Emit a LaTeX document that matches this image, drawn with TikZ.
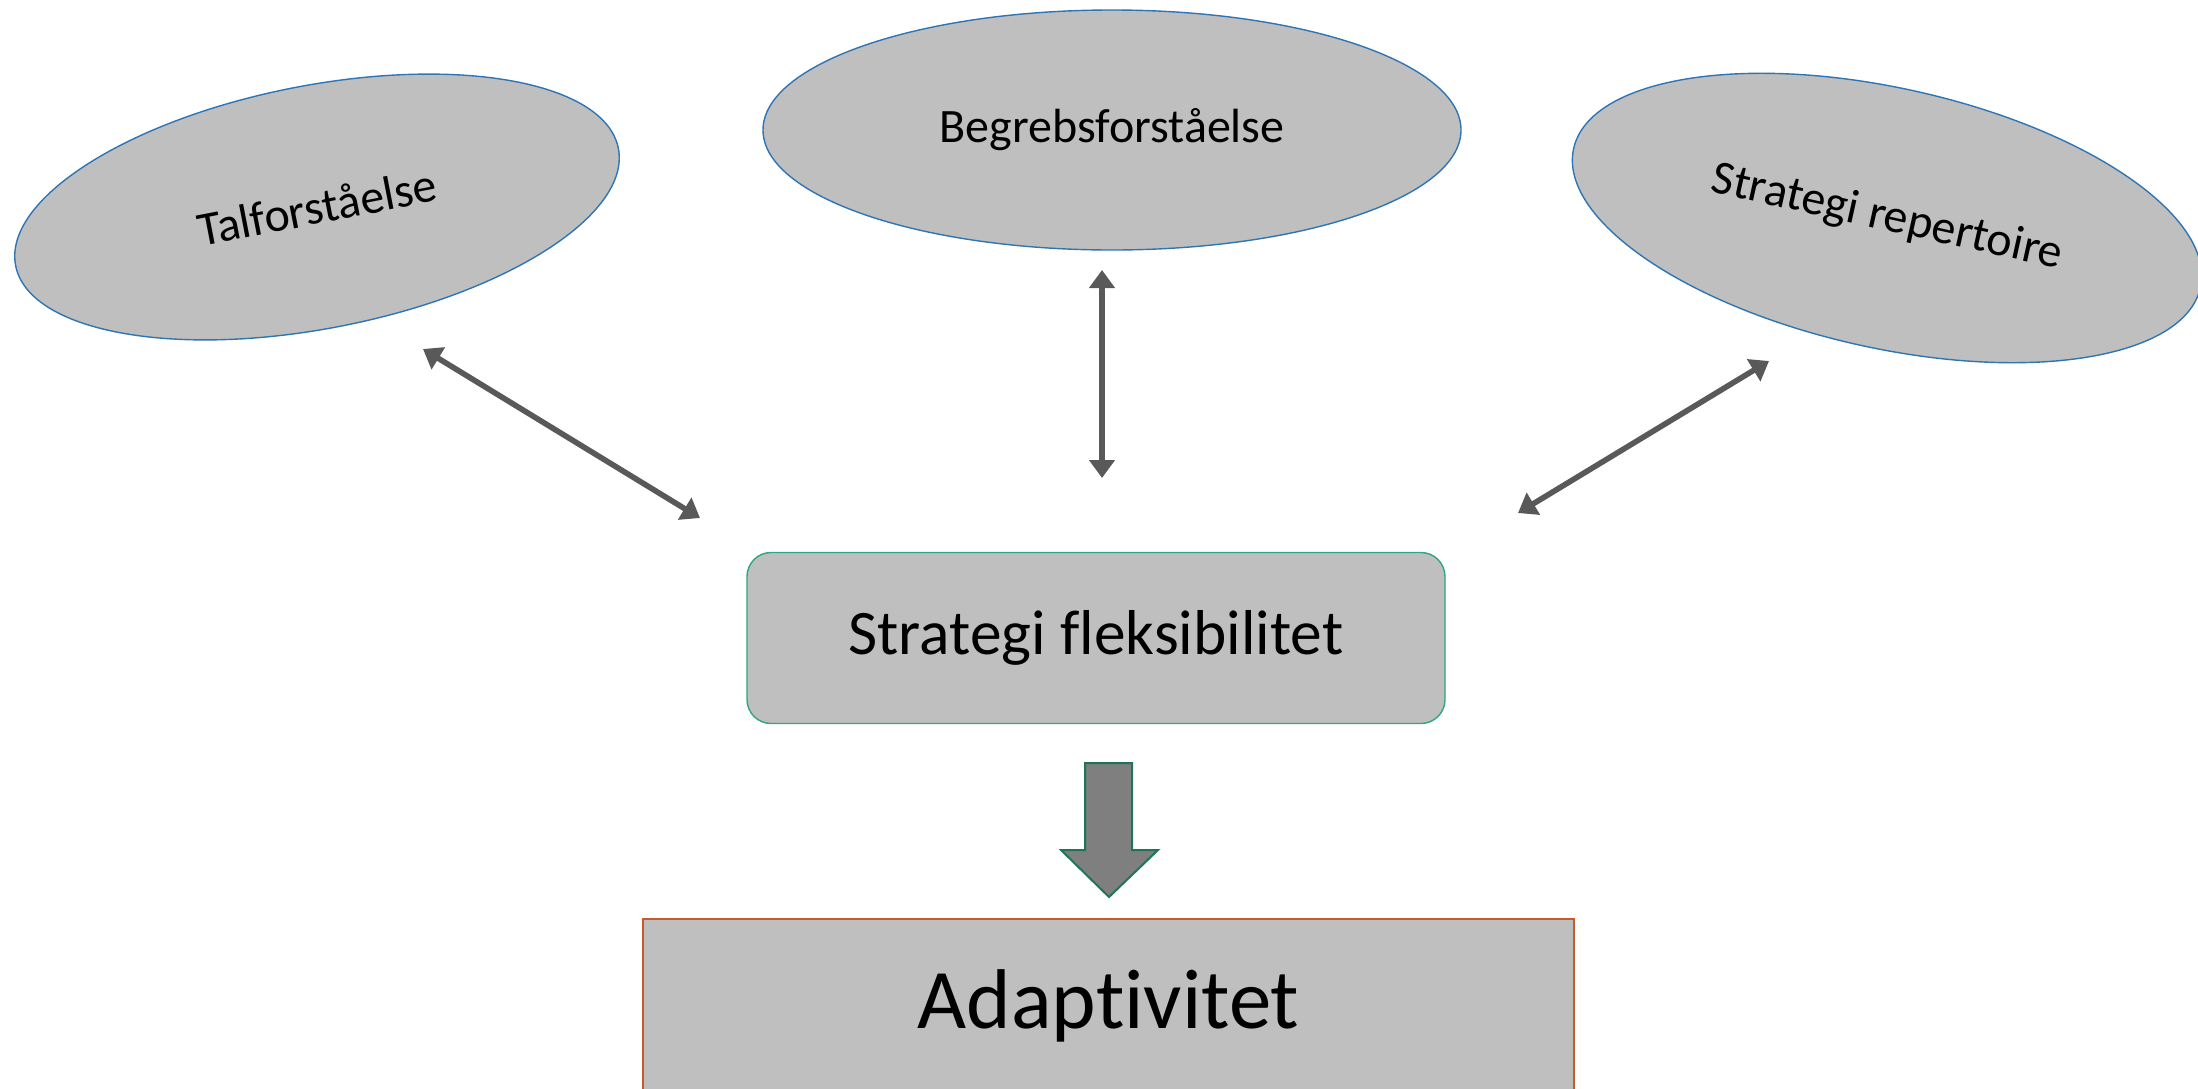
\documentclass[tikz,border=0pt]{standalone}
\usepackage{fontspec}
\setmainfont{Carlito}[RawFeature={-liga;-clig}]
\usetikzlibrary{shapes.geometric,arrows.meta}
\definecolor{shapefill}{HTML}{BFBFBF}
\definecolor{ellborder}{HTML}{2E75B6}
\definecolor{rrborder}{HTML}{2EA585}
\definecolor{adborder}{HTML}{C55A2B}
\definecolor{arrowgray}{HTML}{595959}
\definecolor{blockfill}{HTML}{7F7F7F}
\definecolor{blockborder}{RGB}{30,118,88}
\tikzset{
  oval/.style={ellipse, draw=ellborder, line width=0.7pt, fill=shapefill, inner sep=0pt,
    font=\fontsize{24}{28}\selectfont},
  linkarrow/.style={draw=arrowgray, line width=2.8pt, {Triangle[length=9pt,width=12.5pt]}-{Triangle[length=9pt,width=12.5pt]}},
}
\begin{document}
\begin{tikzpicture}[x=0.5pt,y=-0.5pt]
\useasboundingbox (0,0) rectangle (2198,1088);
\clip (0,0) rectangle (2198,1088);
% ellipses
\node[oval, minimum width=307pt, minimum height=121.5pt, rotate=11] (tal) at (317,207)
  {Talforståelse};
\node[oval, minimum width=349pt, minimum height=120pt] (beg) at (1112,130) {Begrebsforståelse};
\node[oval, minimum width=321pt, minimum height=130pt, rotate=-12.5] (rep) at (1887,218)
  {Strategi repertoire};
% central box
\node[draw=rrborder, line width=0.7pt, fill=shapefill, rounded corners=12pt,
  minimum width=349pt, minimum height=85.5pt, inner sep=0pt,
  font=\fontsize{31.7}{36}\selectfont] (flex) at (1096,638) {Strategi f\kern0ptleksibilitet};
% bottom box
\node[draw=adborder, line width=0.8pt, fill=shapefill, minimum width=465.5pt, minimum height=87pt,
  inner sep=0pt, font=\fontsize{42.4}{48}\selectfont] (ada) at (1108.5,1006) {Adapt\kern0ptivitet};
% connector end points
\coordinate (t1) at (423,349);
\coordinate (t2) at (700,518);
\coordinate (b1) at (1102,270);
\coordinate (b2) at (1102,478);
\coordinate (r1) at (1769,361);
\coordinate (r2) at (1518,513);
\draw[linkarrow] (t1) -- (t2);
\draw[linkarrow] (b1) -- (b2);
\draw[linkarrow] (r1) -- (r2);
% block arrow
\draw[fill=blockfill, draw=blockborder, line width=1pt]
  (1085,763) -- (1132,763) -- (1132,850) -- (1158,850) -- (1109,897) -- (1061,850) -- (1085,850) -- cycle;
\end{tikzpicture}
\end{document}
